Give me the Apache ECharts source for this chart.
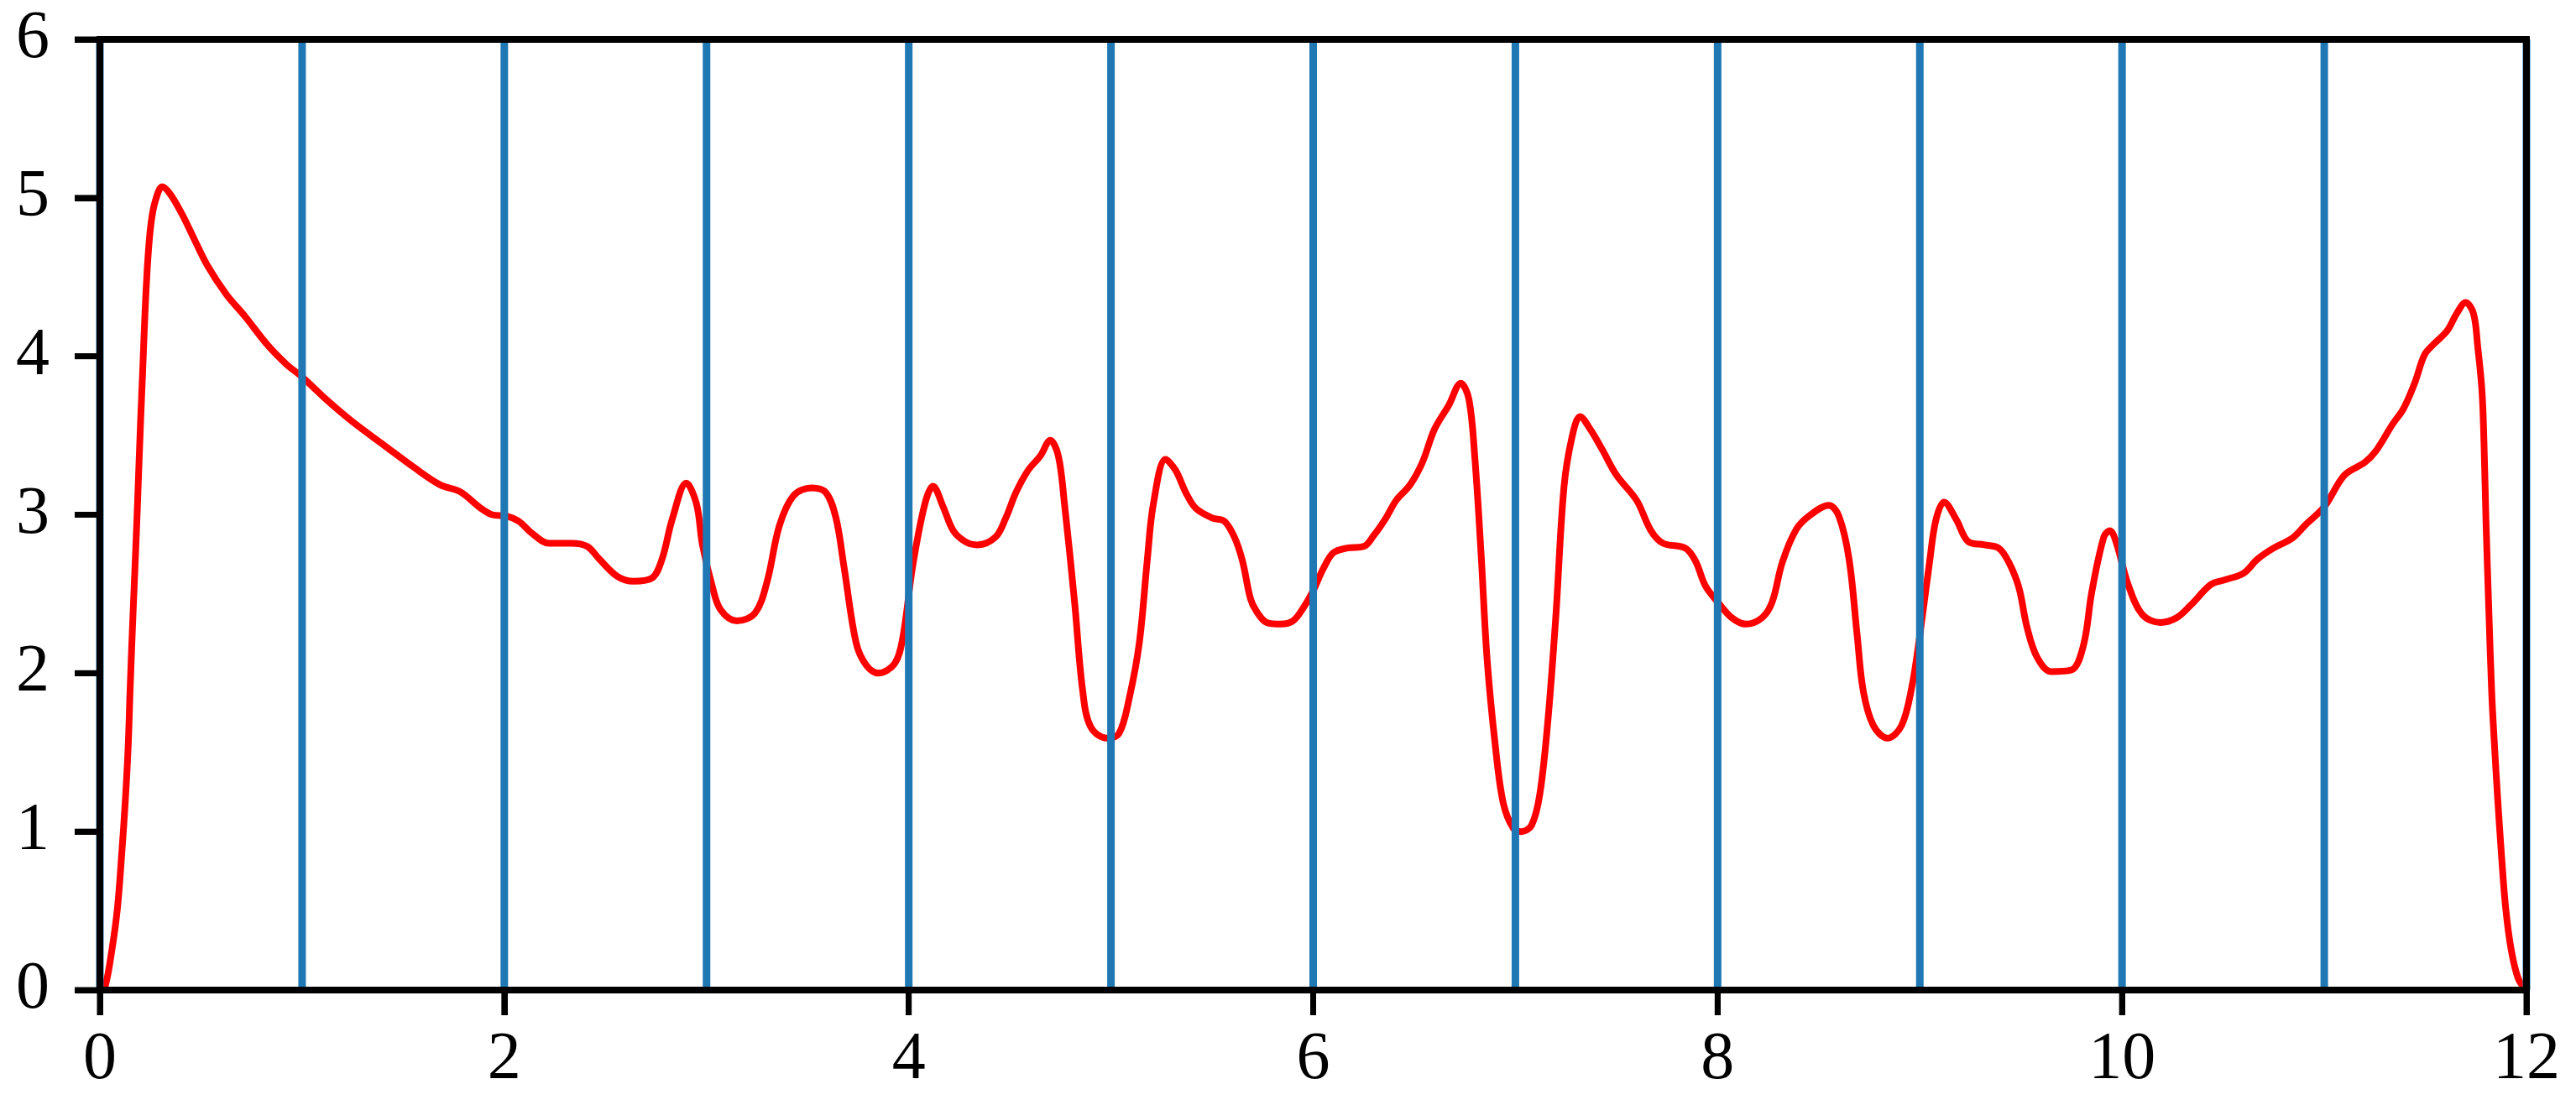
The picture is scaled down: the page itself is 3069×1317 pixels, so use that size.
<!DOCTYPE html>
<html>
<head>
<meta charset="utf-8">
<script src="https://cdn.jsdelivr.net/npm/echarts@6/dist/echarts.min.js"></script>
<style>
  html, body { margin: 0; padding: 0; background: #fff; }
  #chart-container { width: 3069px; height: 1317px; }
</style>
</head>
<body>
<div id="chart-container"></div>
<script>
var xVals = [
  0, 0.025, 0.059, 0.087, 0.108, 0.126, 0.140, 0.149, 0.159, 0.170, 0.181, 0.191, 0.201, 0.212, 0.223, 0.237,
  0.253, 0.274, 0.309, 0.35, 0.405, 0.459, 0.533, 0.626, 0.719, 0.830, 0.922, 1.0, 1.126, 1.256, 1.404, 1.552,
  1.681, 1.774, 1.81, 1.885, 1.94, 2.015, 2.07, 2.14, 2.22, 2.33, 2.41, 2.47, 2.56, 2.64, 2.73, 2.78,
  2.83, 2.90, 2.95, 2.98, 3.03, 3.07, 3.15, 3.24, 3.30, 3.36, 3.43, 3.52, 3.59, 3.64, 3.68, 3.74,
  3.79, 3.85, 3.93, 3.97, 4.02, 4.08, 4.12, 4.17, 4.22, 4.28, 4.34, 4.43, 4.48, 4.53, 4.59, 4.65,
  4.70, 4.74, 4.77, 4.82, 4.86, 4.90, 4.98, 5.04, 5.09, 5.14, 5.18, 5.21, 5.27, 5.32, 5.37, 5.42,
  5.50, 5.56, 5.61, 5.65, 5.69, 5.72, 5.77, 5.84, 5.90, 5.95, 6.0, 6.05, 6.10, 6.17, 6.25, 6.30,
  6.36, 6.41, 6.48, 6.54, 6.60, 6.67, 6.73, 6.77, 6.80, 6.83, 6.86, 6.90, 6.94, 6.99, 7.03, 7.08,
  7.12, 7.16, 7.20, 7.24, 7.28, 7.32, 7.37, 7.43, 7.50, 7.60, 7.67, 7.73, 7.84, 7.89, 7.94, 8.0,
  8.07, 8.14, 8.22, 8.27, 8.32, 8.39, 8.46, 8.55, 8.60, 8.65, 8.69, 8.72, 8.77, 8.84, 8.91, 8.96,
  9.0, 9.05, 9.08, 9.12, 9.18, 9.24, 9.32, 9.39, 9.44, 9.49, 9.53, 9.58, 9.65, 9.75, 9.81, 9.85,
  9.91, 9.94, 9.97, 10.03, 10.10, 10.19, 10.27, 10.34, 10.44, 10.51, 10.60, 10.67, 10.75, 10.84, 10.91, 11.0,
  11.10, 11.20, 11.254, 11.337, 11.392, 11.447, 11.496, 11.544, 11.607, 11.655, 11.699, 11.738, 11.759, 11.78, 11.79, 11.80,
  11.814, 11.828, 11.842, 11.858, 11.876, 11.897, 11.925, 11.96, 12
];
var yVals = [
  0, 0.02, 0.25, 0.52, 0.86, 1.20, 1.54, 1.88, 2.22, 2.56, 2.90, 3.24, 3.58, 3.92, 4.27, 4.61,
  4.84, 4.98, 5.07, 5.02, 4.90, 4.76, 4.57, 4.39, 4.25, 4.07, 3.95, 3.87, 3.72, 3.58, 3.44, 3.30,
  3.19, 3.15, 3.12, 3.04, 3.00, 2.99, 2.96, 2.88, 2.82, 2.82, 2.80, 2.72, 2.61, 2.58, 2.60, 2.72,
  2.97, 3.20, 3.07, 2.81, 2.54, 2.40, 2.33, 2.38, 2.58, 2.93, 3.12, 3.17, 3.14, 2.98, 2.67, 2.19,
  2.05, 2.00, 2.06, 2.22, 2.68, 3.07, 3.18, 3.05, 2.90, 2.83, 2.81, 2.86, 2.98, 3.14, 3.28, 3.37,
  3.47, 3.37, 3.07, 2.45, 1.89, 1.66, 1.59, 1.62, 1.84, 2.19, 2.72, 3.07, 3.35, 3.28, 3.14, 3.04,
  2.98, 2.96, 2.86, 2.71, 2.47, 2.39, 2.32, 2.31, 2.33, 2.41, 2.52, 2.66, 2.76, 2.79, 2.80, 2.87,
  2.98, 3.09, 3.19, 3.33, 3.54, 3.69, 3.83, 3.73, 3.35, 2.76, 2.09, 1.55, 1.18, 1.02, 1.00, 1.04,
  1.23, 1.69, 2.36, 3.17, 3.49, 3.62, 3.54, 3.41, 3.25, 3.09, 2.90, 2.82, 2.79, 2.71, 2.55, 2.45,
  2.35, 2.31, 2.35, 2.45, 2.70, 2.91, 3.00, 3.06, 2.99, 2.72, 2.24, 1.89, 1.67, 1.59, 1.67, 1.91,
  2.24, 2.72, 2.97, 3.08, 2.97, 2.83, 2.81, 2.79, 2.70, 2.54, 2.29, 2.10, 2.01, 2.02, 2.18, 2.51,
  2.86, 2.90, 2.83, 2.56, 2.37, 2.32, 2.35, 2.43, 2.56, 2.59, 2.63, 2.72, 2.79, 2.85, 2.94, 3.05,
  3.25, 3.33, 3.40, 3.57, 3.67, 3.83, 4.01, 4.08, 4.16, 4.27, 4.34, 4.27, 4.06, 3.78, 3.45, 2.95,
  2.39, 1.88, 1.54, 1.20, 0.86, 0.52, 0.25, 0.07, 0
];
var vLines = [0, 1, 2, 3, 4, 5, 6, 7, 8, 9, 10, 11, 12];
var xTicks = [0, 2, 4, 6, 8, 10, 12];
var yTicks = [0, 1, 2, 3, 4, 5, 6];

var dom = document.getElementById('chart-container');
var myChart = echarts.init(dom, null, {renderer: 'canvas'});

var fontFam = '"Liberation Serif", "DejaVu Serif", serif';
var curve = xVals.map(function (x, i) { return [x, yVals[i]]; });

var series = [];
vLines.forEach(function (v) {
  series.push({
    type: 'line',
    data: [[v, 0], [v, 6]],
    showSymbol: false,
    silent: true,
    z: -1,
    lineStyle: {color: '#1f77b4', width: 9}
  });
});
series.push({
  type: 'line',
  data: curve,
  showSymbol: false,
  smooth: 0.35,
  silent: true,
  z: -2,
  lineStyle: {color: '#ff0000', width: 8, join: 'round', cap: 'round'}
});

// outward tick marks, placed through the axes' own scale
series.push({
  type: 'custom',
  data: xTicks.map(function (v) { return [v, 0]; }),
  clip: false,
  silent: true,
  z: 10,
  renderItem: function (params, api) {
    var p = api.coord([api.value(0), api.value(1)]);
    return {type: 'line', shape: {x1: p[0], y1: p[1], x2: p[0], y2: p[1] + 30},
      style: {stroke: '#000', lineWidth: 7}};
  }
});
series.push({
  type: 'custom',
  data: yTicks.map(function (v) { return [0, v]; }),
  clip: false,
  silent: true,
  z: 10,
  renderItem: function (params, api) {
    var p = api.coord([api.value(0), api.value(1)]);
    return {type: 'line', shape: {x1: p[0] - 30, y1: p[1], x2: p[0], y2: p[1]},
      style: {stroke: '#000', lineWidth: 7}};
  }
});

option = {
  animation: false,
  backgroundColor: '#fff',
  grid: {left: 119, right: 59, top: 47, bottom: 137, show: true, borderColor: '#000', borderWidth: 8},
  xAxis: {
    type: 'value', min: 0, max: 12, interval: 2,
    axisLine: {show: true, lineStyle: {color: '#000', width: 8}},
    axisTick: {show: true, length: 30, lineStyle: {color: '#000', width: 7}},
    axisLabel: {margin: 44, fontSize: 80, color: '#000', fontFamily: fontFam},
    splitLine: {show: false}
  },
  yAxis: {
    type: 'value', min: 0, max: 6, interval: 1,
    axisLine: {show: true, lineStyle: {color: '#000', width: 8}},
    axisTick: {show: true, length: 30, lineStyle: {color: '#000', width: 7}},
    axisLabel: {margin: 60, fontSize: 80, color: '#000', fontFamily: fontFam},
    splitLine: {show: false}
  },
  series: series
};

myChart.setOption(option);
window.addEventListener('resize', myChart.resize);
</script>
</body>
</html>
